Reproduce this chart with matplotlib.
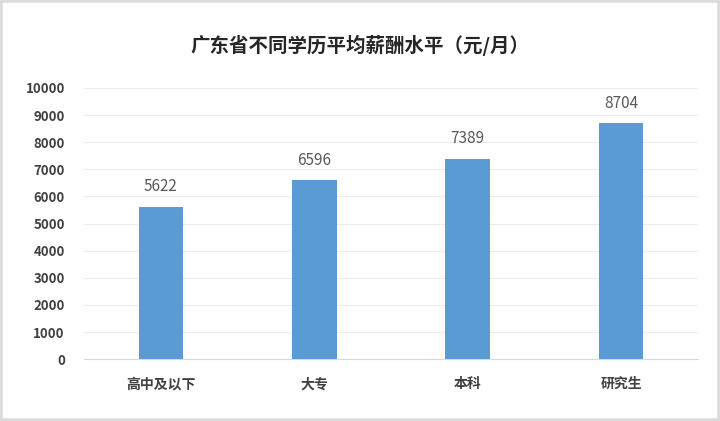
import matplotlib
matplotlib.use('Agg')
import matplotlib.pyplot as plt
from matplotlib.patches import Rectangle
import numpy as np

plt.rcParams['font.family'] = ['Noto Sans CJK SC', 'DejaVu Sans']

categories = ['高中及以下', '大专', '本科', '研究生']
salaries = [5622, 6596, 7389, 8704]
yticks = list(range(0, 10001, 1000))

fig = plt.figure(figsize=(7.2, 4.21), dpi=100)
ax = fig.add_axes([0.117, 0.147, 0.852, 0.644])

x = np.arange(len(categories))
ax.bar(x, salaries, width=0.29, color='#5b9bd5', zorder=3)
for xi, v in zip(x, salaries):
    ax.text(xi, v + 420, str(v), ha='center', va='bottom', fontsize=11, color='#595959')

ax.set_xlim(-0.5, len(categories) - 0.5)
ax.set_ylim(0, 10000)
ax.set_yticks(yticks)
ax.set_yticklabels([str(t) for t in yticks], fontsize=9.5, fontweight='bold', color='#404040')
ax.set_xticks(x)
ax.set_xticklabels(categories, fontsize=10, fontweight='bold', color='#404040')
ax.tick_params(length=0)
ax.tick_params(axis='x', pad=13)
ax.tick_params(axis='y', pad=14)
ax.grid(axis='y', color='#ececec', linewidth=0.8, zorder=0)
for s in ['top', 'right', 'left']:
    ax.spines[s].set_visible(False)
ax.spines['bottom'].set_color('#d9d9d9')

fig.text(0.5, 0.893, '广东省不同学历平均薪酬水平（元/月）', ha='center', va='center',
         fontsize=14, fontweight='bold', color='#262626')

fig.patches.append(Rectangle((0, 0), 1, 1, transform=fig.transFigure, fill=False,
                             edgecolor='#dcdcdc', linewidth=4))

fig.savefig('out.png', dpi=100)
